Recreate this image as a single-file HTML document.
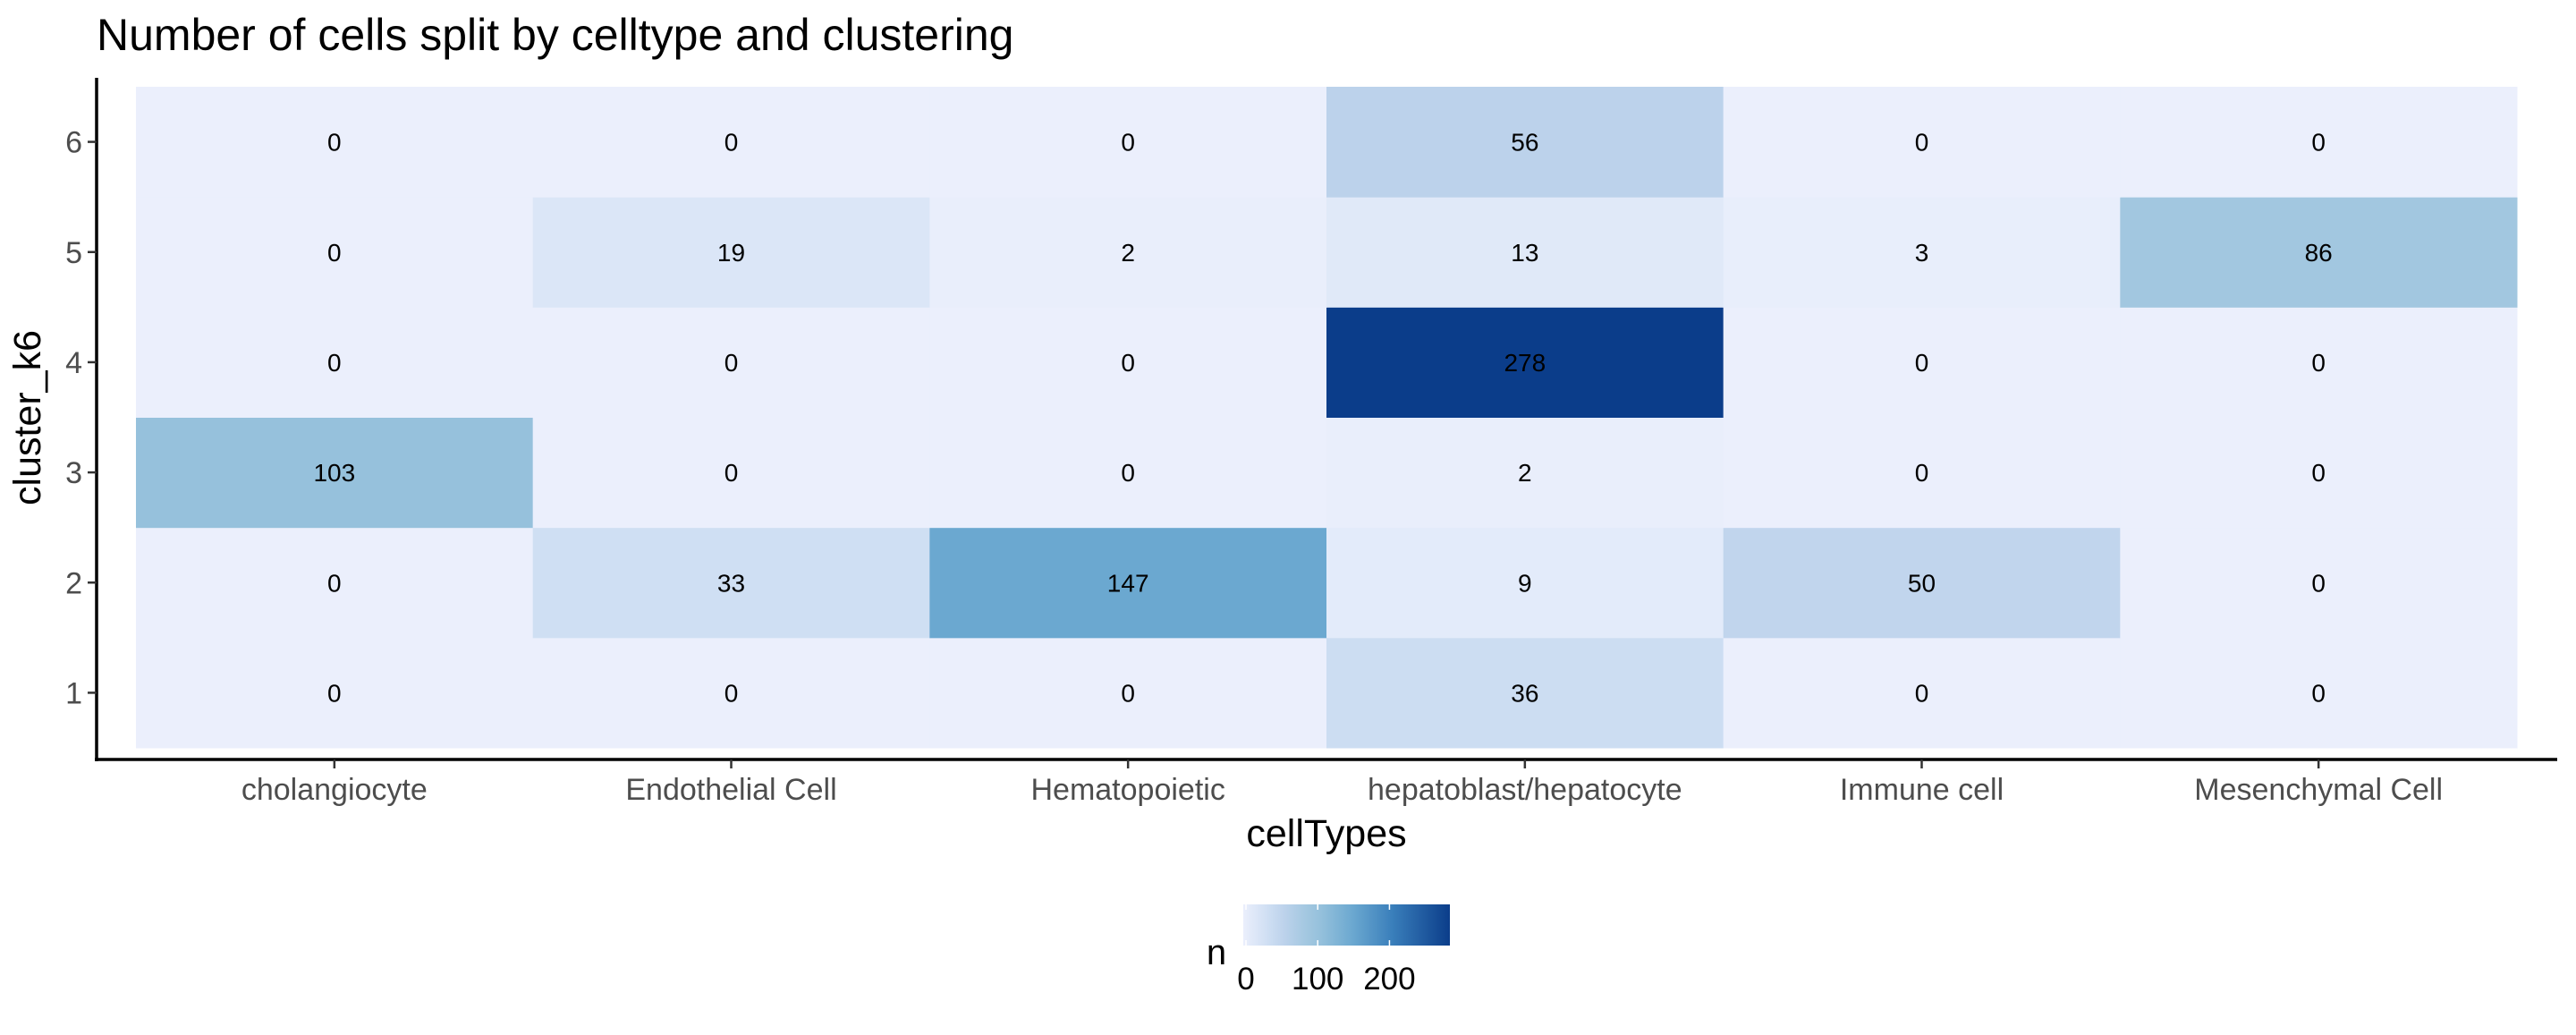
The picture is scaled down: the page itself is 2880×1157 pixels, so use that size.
<!DOCTYPE html>
<html><head><meta charset="utf-8"><style>
html,body{margin:0;padding:0;background:#fff;}
svg text{font-family:"Liberation Sans",Arial,sans-serif;}
</style></head><body>
<svg id="chart" width="2880" height="1152" viewBox="0 0 2880 1152" xmlns="http://www.w3.org/2000/svg">
<defs>
<linearGradient id="lg" x1="0" x2="1" y1="0" y2="0">
<stop offset="0" stop-color="#ebeffc"/>
<stop offset="0.13" stop-color="#ccddf2"/>
<stop offset="0.2" stop-color="#bcd2eb"/>
<stop offset="0.31" stop-color="#a2c7e0"/>
<stop offset="0.37" stop-color="#96c1dc"/>
<stop offset="0.53" stop-color="#6ba8d0"/>
<stop offset="0.72" stop-color="#3a7fbb"/>
<stop offset="1" stop-color="#0b3d8a"/>
</linearGradient>
</defs>
<text x="108" y="56" font-size="50" fill="#000">Number of cells split by celltype and clustering</text>
<g id="cells"></g>
<g id="axes"></g>
<text x="1483" y="946" font-size="43" text-anchor="middle" fill="#000">cellTypes</text>
<text transform="translate(45,467) rotate(-90)" font-size="43" text-anchor="middle" fill="#000">cluster_k6</text>
<g>
<text x="1360" y="1078" font-size="40" text-anchor="middle" fill="#000">n</text>
<rect x="1390" y="1011" width="231" height="46" fill="url(#lg)"/>
<g id="legend-ticks"></g>
</g>
</svg>
<script>
const categories = ["cholangiocyte","Endothelial Cell","Hematopoietic","hepatoblast/hepatocyte","Immune cell","Mesenchymal Cell"];
const clusters = ["1","2","3","4","5","6"];
// values[clusterIndex][categoryIndex]
const values1 = [0,0,0,36,0,0];
const values2 = [0,33,147,9,50,0];
const values3 = [103,0,0,2,0,0];
const values4 = [0,0,0,278,0,0];
const values5 = [0,19,2,13,3,86];
const values6 = [0,0,0,56,0,0];
const legendTicks = [0,100,200];

const values = [values1,values2,values3,values4,values5,values6];
const NS = "http://www.w3.org/2000/svg";
const x0 = 152, x1 = 2814, yTop = 97, yBot = 836;
const bw = (x1 - x0) / categories.length;
const bh = (yBot - yTop) / clusters.length;
const xPos = i => x0 + i * bw;
const yPos = j => yBot - (j + 1) * bh;
let vmax = 0; values.forEach(r => r.forEach(v => { if (v > vmax) vmax = v; }));
const stops = [[0,[235,239,252]],[0.13,[204,221,242]],[0.2,[188,210,235]],[0.31,[162,199,224]],[0.37,[150,193,220]],[0.53,[107,168,208]],[0.72,[58,127,187]],[1,[11,61,138]]];
function color(v){
  const t = Math.max(0, Math.min(1, v / vmax));
  for (let k = 1; k < stops.length; k++) {
    if (t <= stops[k][0]) {
      const a = stops[k-1], b = stops[k], f = (t - a[0]) / (b[0] - a[0]);
      const c = a[1].map((q, i) => Math.round(q + (b[1][i] - q) * f));
      return "rgb(" + c.join(",") + ")";
    }
  }
  return "rgb(11,61,138)";
}
function mk(tag, attrs, parent){ const e = document.createElementNS(NS, tag); for (const k in attrs) e.setAttribute(k, attrs[k]); parent.appendChild(e); return e; }
const cells = document.getElementById("cells");
values.forEach((row, j) => row.forEach((v, i) => {
  const r = mk("rect", {x: xPos(i), y: yPos(j), width: bw + 0.5, height: bh + 0.5, fill: color(v)}, cells);
  
  
  const t = mk("text", {x: xPos(i) + bw / 2, y: yPos(j) + bh / 2 + 10, "font-size": 28, "text-anchor": "middle", fill: "#000"}, cells);
  
  
  t.textContent = v;
}));
const axes = document.getElementById("axes");
const yl = mk("line", {x1: 108, y1: 87, x2: 108, y2: 851, stroke: "#000", "stroke-width": 3.5}, axes);


const xl = mk("line", {x1: 106, y1: 849, x2: 2859, y2: 849, stroke: "#000", "stroke-width": 3.5}, axes);


clusters.forEach((c, j) => {
  const y = yPos(j) + bh / 2;
  const tk = mk("line", {x1: 98, y1: y, x2: 108, y2: y, stroke: "#333", "stroke-width": 2.5}, axes);
  
  
  const t = mk("text", {x: 92, y: y + 12, "font-size": 34, "text-anchor": "end", fill: "#4d4d4d"}, axes);
  
  
  t.textContent = c;
});
categories.forEach((c, i) => {
  const x = xPos(i) + bw / 2;
  const tk = mk("line", {x1: x, y1: 849, x2: x, y2: 859, stroke: "#333", "stroke-width": 2.5}, axes);
  
  
  const t = mk("text", {x: x, y: 894, "font-size": 34, "text-anchor": "middle", fill: "#4d4d4d"}, axes);
  
  
  t.textContent = c;
});
const lt = document.getElementById("legend-ticks");
const lx0 = 1393, lx1 = 1616;
legendTicks.forEach(v => {
  const x = lx0 + (lx1 - lx0) * v / vmax;
  [[1011,1017],[1051,1057]].forEach(s => {
    const l = mk("line", {x1: x, y1: s[0], x2: x, y2: s[1], stroke: "#fff", "stroke-width": 1.5}, lt);
    
    
  });
  const t = mk("text", {x: x, y: 1106, "font-size": 35, "text-anchor": "middle", fill: "#000"}, lt);
  
  
  t.textContent = v;
});
</script>
</body></html>
